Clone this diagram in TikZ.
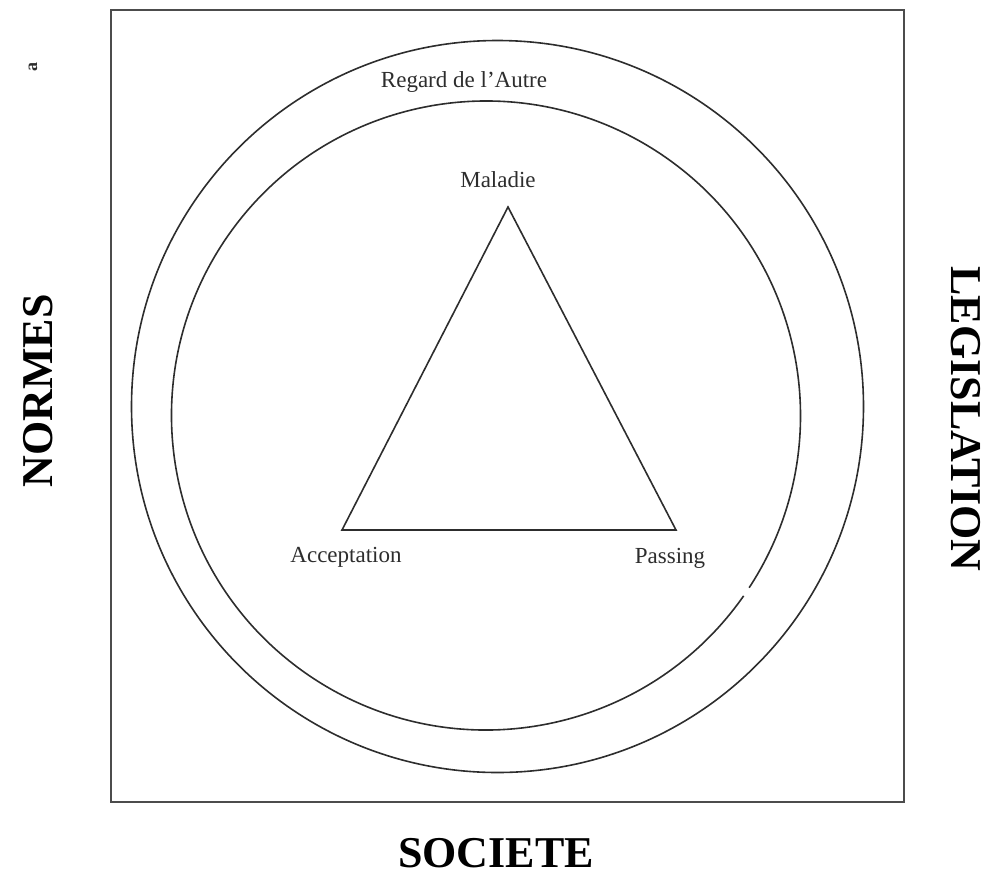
\documentclass[tikz,border=0pt]{standalone}
\usepackage{fontspec}
\setmainfont{Liberation Serif}
\usetikzlibrary{positioning}
\definecolor{inkgrey}{RGB}{45, 45, 45}

\begin{document}
\begin{tikzpicture}[
    x=0.5pt, y=-0.5pt,
    line width=0.8pt, draw=inkgrey,
    biglabel/.style={font=\fontsize{22}{24}\selectfont\bfseries, inner sep=0pt},
    smalllabel/.style={font=\fontsize{11.5}{13}\selectfont, text=inkgrey, inner sep=1pt}
]
    \useasboundingbox (0, 0) rectangle (987, 875);

    % frame and the two rings
    \draw[draw=black!70] (111, 10) rectangle (904, 802);
    \draw (497.5, 406.5) circle (366);
    \draw (486, 415.5) ++(35:314.5) arc[start angle=35, end angle=393.2, radius=314.5];

    % triangle
    \coordinate (mal) at (508, 207);
    \coordinate (acc) at (342, 530);
    \coordinate (pas) at (676, 530);
    \draw[line join=miter] (mal) -- (pas) -- (acc) -- cycle;

    \node[smalllabel] (maladie) at (498, 180) {Maladie};
    \node[smalllabel] (acceptation) at (346, 557) {Acceptation};
    \node[smalllabel] (passing) at (670, 558) {Passing};
    \node[smalllabel] (regard) at (464, 82) {Regard de l'Autre};

    % outer words
    \node[biglabel, rotate=90] (normes) at (38, 391) {NORMES};
    \node[biglabel, rotate=-90] (legislation) at (966, 419) {LEGISLATION};
    \node[biglabel] (societe) at (496, 853) {SOCIETE};

    \node[font=\fontsize{9}{10}\selectfont\bfseries, rotate=90, text=inkgrey] (mark) at (33, 67) {a};
\end{tikzpicture}
\end{document}
